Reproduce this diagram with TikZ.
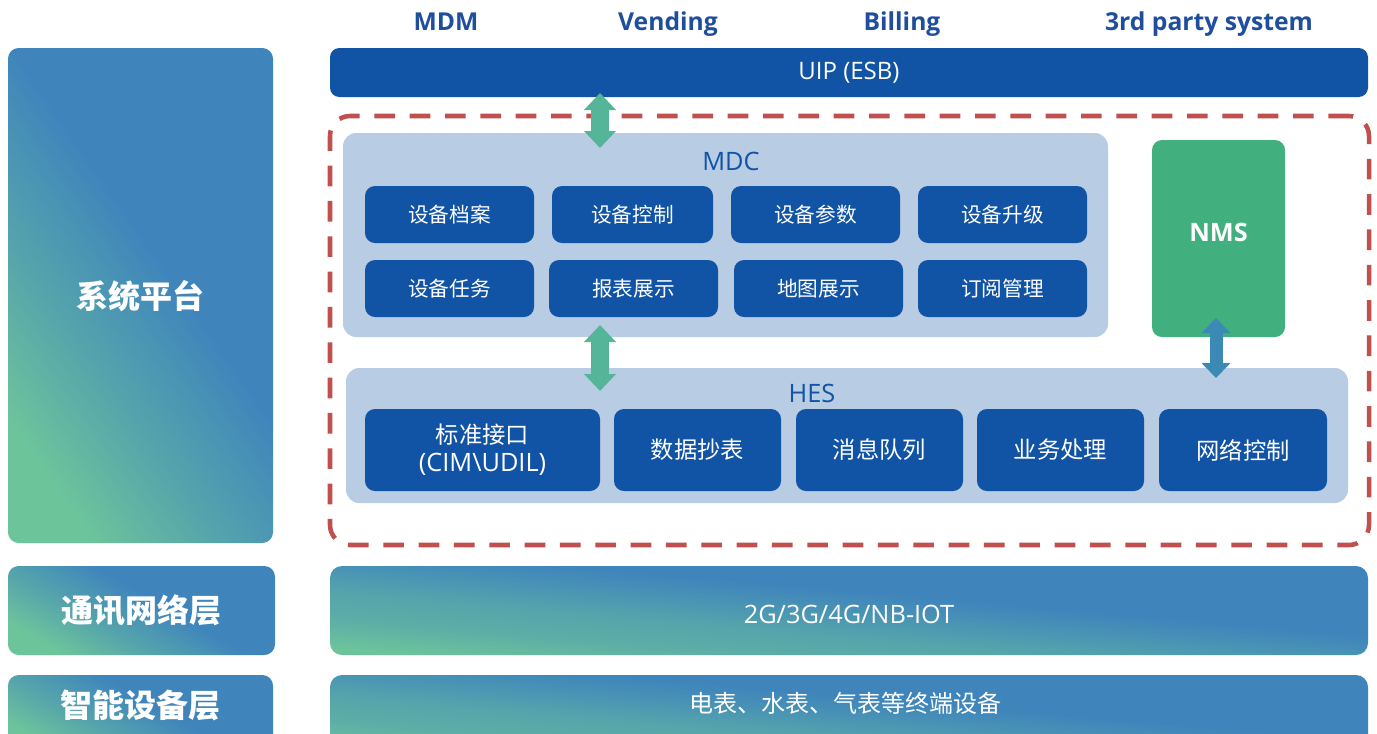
\documentclass[tikz,border=0pt]{standalone}
\usepackage{fontspec}
\setmainfont{Open Sans}
\newfontfamily\cjk{Noto Sans CJK SC}
\usetikzlibrary{arrows.meta}
\definecolor{dblue}{HTML}{1153A4}
\definecolor{tblue}{HTML}{1F4E9C}
\definecolor{panel}{HTML}{B8CCE4}
\definecolor{gblue}{HTML}{3F85BC}
\definecolor{ggreen}{HTML}{6CC49B}
\definecolor{dred}{HTML}{C0504D}
\definecolor{nmsg}{HTML}{41B07E}
\definecolor{arrc}{HTML}{55B598}
\definecolor{arrb}{HTML}{3A8AB5}
\pgfdeclareverticalshading{boxshade}{100bp}{color(0bp)=(ggreen); color(25bp)=(ggreen); color(39bp)=(ggreen!50!gblue); color(55bp)=(gblue); color(100bp)=(gblue)}
\pgfdeclareverticalshading{barshade}{100bp}{color(0bp)=(ggreen); color(25bp)=(ggreen); color(34bp)=(ggreen!65!gblue); color(42bp)=(ggreen!50!gblue); color(50bp)=(ggreen!20!gblue); color(56bp)=(gblue); color(100bp)=(gblue)}
\tikzset{
  sz/.style 2 args={minimum width=#1*0.75pt,minimum height=#2*0.75pt,inner sep=0pt},
  btn/.style={fill=dblue,rounded corners=7.5pt,text=white,font=\cjk\fontsize{15.5pt}{18pt}\selectfont},
  hbtn/.style={fill=dblue,rounded corners=7.5pt,text=white,align=center,font=\cjk\fontsize{17.5pt}{21pt}\selectfont},
  pan/.style={fill=panel,rounded corners=10pt},
  gradbox/.style={shading=boxshade,shading angle=-55,rounded corners=8pt},
  gradbar/.style={shading=barshade,shading angle=-5,rounded corners=9pt},
  toplab/.style={text=tblue,anchor=base,font=\bfseries\fontsize{18.5pt}{22pt}\selectfont},
  sidelab/.style={text=white,font=\cjk\bfseries\fontsize{24pt}{28pt}\selectfont},
  barlab/.style={text=white,font=\fontsize{19pt}{22pt}\selectfont},
  panlab/.style={text=dblue,font=\fontsize{19pt}{22pt}\selectfont},
  dbl/.style={line width=#1*0.75pt,{Triangle[width=31*0.75pt,length=17*0.75pt]}-{Triangle[width=31*0.75pt,length=17*0.75pt]}},
}
\begin{document}
\begin{tikzpicture}[x=0.75pt,y=-0.75pt]
\useasboundingbox (0,0) rectangle (1377,733);
\clip (0,0) rectangle (1377,733);
% top labels
\node[toplab] (mdm) at (446,30) {MDM};
\node[toplab] (vend) at (668,30) {Vending};
\node[toplab] (bill) at (902,30) {Billing};
\node[toplab] (third) at (1209,30) {3rd party system};
% UIP
\node[sz={1038}{49},fill=dblue,rounded corners=7pt,text=white,font=\fontsize{18pt}{21pt}\selectfont] (uip) at (849,72.5) {UIP (ESB)};
% left column
\node[sz={265}{495},gradbox] (sys) at (140.5,295.5) {};
\node[sidelab] (syst) at (140.5,296) {系统平台};
\node[sz={267}{89},gradbox,shading angle=-30] (comm) at (141.5,610.5) {};
\node[sidelab] (commt) at (141.5,610.5) {通讯网络层};
\node[sz={265}{80},gradbox,shading angle=-30] (dev) at (140.5,715) {};
\node[sidelab] (devt) at (140.5,705) {智能设备层};
% right bars
\node[sz={1038}{89},gradbar] (net) at (849,610.5) {};
\node[barlab] (nett) at (849,614) {2G/3G/4G/NB-IOT};
\node[sz={1038}{80},gradbar] (meter) at (849,715) {};
\node[barlab,font=\cjk\fontsize{18pt}{21pt}\selectfont] (metert) at (845,703) {电表、水表、气表等终端设备};
% dashed frame
\node[sz={1039}{429},draw=dred,line width=3.4pt,dash pattern=on 15.5pt off 11pt,rounded corners=15pt] (frame) at (849.5,330.5) {};
% MDC
\node[sz={765}{204},pan] (mdc) at (725.5,235) {};
\node[panlab] (mdct) at (731,161) {MDC};
\node[sz={169}{57},btn] (b11) at (449.5,214.5) {设备档案};
\node[sz={161}{57},btn] (b12) at (632.5,214.5) {设备控制};
\node[sz={169}{57},btn] (b13) at (815.5,214.5) {设备参数};
\node[sz={169}{57},btn] (b14) at (1002.5,214.5) {设备升级};
\node[sz={169}{57},btn] (b21) at (449.5,288.5) {设备任务};
\node[sz={169}{57},btn] (b22) at (633.5,288.5) {报表展示};
\node[sz={169}{57},btn] (b23) at (818.5,288.5) {地图展示};
\node[sz={169}{57},btn] (b24) at (1002.5,288.5) {订阅管理};
% NMS
\node[sz={133}{197},fill=nmsg,rounded corners=7.5pt] (nms) at (1218.5,238.5) {};
\node[text=white,font=\bfseries\fontsize{19pt}{22pt}\selectfont] (nmst) at (1218.5,232) {NMS};
% HES
\node[sz={1002}{135},pan] (hes) at (847,435.5) {};
\node[panlab] (hest) at (812,393) {HES};
\node[sz={235}{82},hbtn] (h1) at (482.5,450) {标准接口\\{\fontspec{Open Sans}\fontsize{19pt}{21pt}\selectfont(CIM\textbackslash UDIL)}};
\node[sz={167}{82},hbtn] (h2) at (697.5,450) {数据抄表};
\node[sz={167}{82},hbtn] (h3) at (879.5,450) {消息队列};
\node[sz={167}{82},hbtn] (h4) at (1060.5,450) {业务处理};
\node[sz={168}{82},hbtn] (h5) at (1243,450) {网络控制};
% arrows
\coordinate (a1t) at (600,93);
\coordinate (a1b) at (600,148);
\coordinate (a2t) at (600,325);
\coordinate (a2b) at (600,391);
\coordinate (a3t) at (1216,318);
\coordinate (a3b) at (1216,378);
\draw[dbl=18,draw=arrc,fill=arrc] (a1t) -- (a1b);
\draw[dbl=18,draw=arrc,fill=arrc] (a2t) -- (a2b);
\draw[line width=13*0.75pt,{Triangle[width=28*0.75pt,length=15*0.75pt]}-{Triangle[width=28*0.75pt,length=15*0.75pt]},draw=arrb,fill=arrb] (a3t) -- (a3b);
\end{tikzpicture}
\end{document}
